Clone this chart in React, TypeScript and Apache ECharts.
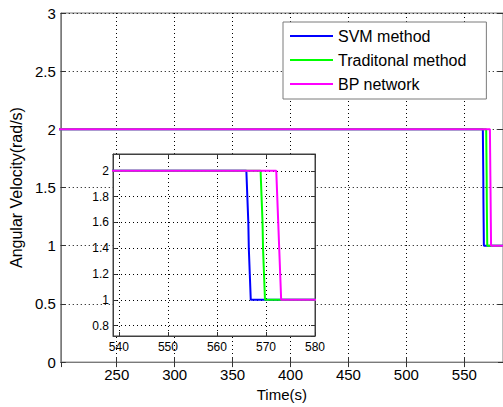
import React, { useEffect, useRef } from "react";
import * as echarts from "echarts";

// Series names and colours
const seriesNames = ["SVM method", "Traditonal method", "BP network"];
const seriesColors = ["#0000ff", "#00ff00", "#ff00ff"];

// SVM method (time s, angular velocity rad/s)
const svmTime = [200, 566.0, 566.2, 566.4, 566.5, 566.7, 566.9, 600];
const svmValue = [2, 2, 1.8, 1.6, 1.4, 1.2, 1, 1];

// Traditional method
const tradTime = [200, 568.9, 569.1, 569.3, 569.4, 569.6, 569.8, 600];
const tradValue = [2, 2, 1.8, 1.6, 1.4, 1.2, 1, 1];

// BP network
const bpTime = [200, 572.1, 572.3, 572.5, 572.7, 572.9, 573.1, 600];
const bpValue = [2, 2, 1.8, 1.6, 1.4, 1.2, 1, 1];

// Axis ranges
const mainX = [201.7, 583.4];
const mainY = [0, 3];
const insetX = [538.8, 580];
const insetY = [0.72, 2.13];

const allTimes = [svmTime, tradTime, bpTime];
const allValues = [svmValue, tradValue, bpValue];

export default function App() {
  const ref = useRef<HTMLDivElement>(null);
  useEffect(() => {
    const chart = echarts.init(ref.current!, null, { renderer: "svg" });
    const font = "Arial, 'Liberation Sans', sans-serif";
    const dotted = { color: "#000000", width: 1, type: [1, 3] as any };
    const frame = "#7a7a7a";
    const insetFrame = "#404040";

    const pairs = (i: number) => allTimes[i].map((t, k) => [t, allValues[i][k]]);

    const mkSeries = (gridIdx: number) =>
      seriesNames.map((name, i) => ({
        type: "line",
        name,
        xAxisIndex: gridIdx === 0 ? 0 : 2,
        yAxisIndex: gridIdx === 0 ? 0 : 2,
        data: pairs(i),
        showSymbol: false,
        symbol: "none",
        lineStyle: { color: seriesColors[i], width: 2 },
        itemStyle: { color: seriesColors[i] },
        z: gridIdx === 0 ? 2 : 5 + i,
        clip: true,
      }));

    const option: any = {
      animation: false,
      textStyle: { fontFamily: font },
      legend: {
        data: seriesNames,
        orient: "vertical",
        left: 283,
        top: 22,
        padding: [6, 20, 7, 7],
        itemGap: 8,
        itemWidth: 43,
        itemHeight: 2,
        itemTextGap: 5,
        icon: "rect",
        backgroundColor: "#ffffff",
        borderColor: frame,
        borderWidth: 1,
        textStyle: { fontSize: 16, color: "#000", fontFamily: font },
        selectedMode: false,
        z: 6,
      },
      grid: [
        {
          left: 57,
          top: 13,
          width: 450,
          height: 353,
          show: true,
          backgroundColor: "transparent",
          borderColor: frame,
          borderWidth: 1,
          z: 0,
        },
        {
          left: 113,
          top: 154,
          width: 202,
          height: 182,
          show: true,
          backgroundColor: "#ffffff",
          borderColor: insetFrame,
          borderWidth: 1,
          z: 3,
        },
      ],
      xAxis: [
        {
          type: "value",
          gridIndex: 0,
          min: mainX[0],
          max: mainX[1],
          splitNumber: 8,
          position: "bottom",
          name: "Time(s)",
          nameLocation: "middle",
          nameGap: 21,
          nameTextStyle: { fontSize: 15, color: "#000", fontFamily: font },
          axisLine: { show: true, lineStyle: { color: frame } },
          axisTick: { show: true, inside: true, length: 5, lineStyle: { color: "#333" } },
          axisLabel: { fontSize: 15, color: "#000", margin: 5, showMinLabel: false, showMaxLabel: false, fontFamily: font },
          splitLine: { show: true, lineStyle: dotted },
          z: 1,
        },
        {
          type: "value",
          gridIndex: 0,
          min: mainX[0],
          max: mainX[1],
          splitNumber: 8,
          position: "top",
          axisLine: { show: true, lineStyle: { color: frame } },
          axisTick: { show: true, inside: true, length: 5, lineStyle: { color: "#333" } },
          axisLabel: { show: false },
          splitLine: { show: false },
          z: 1,
        },
        {
          type: "value",
          gridIndex: 1,
          min: insetX[0],
          max: insetX[1],
          splitNumber: 4,
          position: "bottom",
          axisLine: { show: true, lineStyle: { color: insetFrame } },
          axisTick: { show: true, inside: true, length: 4, lineStyle: { color: "#333" } },
          axisLabel: { fontSize: 12, color: "#000", margin: 5, showMinLabel: false, showMaxLabel: true, fontFamily: font },
          splitLine: { show: true, lineStyle: dotted },
          z: 4,
        },
        {
          type: "value",
          gridIndex: 1,
          min: insetX[0],
          max: insetX[1],
          splitNumber: 4,
          position: "top",
          axisLine: { show: true, lineStyle: { color: insetFrame } },
          axisTick: { show: true, inside: true, length: 4, lineStyle: { color: "#333" } },
          axisLabel: { show: false },
          splitLine: { show: false },
          z: 4,
        },
      ],
      yAxis: [
        {
          type: "value",
          gridIndex: 0,
          min: mainY[0],
          max: mainY[1],
          interval: 0.5,
          position: "left",
          name: "Angular Velocity(rad/s)",
          nameLocation: "middle",
          nameGap: 31,
          nameTextStyle: { fontSize: 16, color: "#000", fontFamily: font },
          axisLine: { show: true, lineStyle: { color: frame } },
          axisTick: { show: true, inside: true, length: 5, lineStyle: { color: "#333" } },
          axisLabel: { fontSize: 15, color: "#000", margin: 5, fontFamily: font },
          splitLine: { show: true, lineStyle: dotted },
          z: 1,
        },
        {
          type: "value",
          gridIndex: 0,
          min: mainY[0],
          max: mainY[1],
          interval: 0.5,
          position: "right",
          axisLine: { show: true, lineStyle: { color: frame } },
          axisTick: { show: true, inside: true, length: 5, lineStyle: { color: "#333" } },
          axisLabel: { show: false },
          splitLine: { show: false },
          z: 1,
        },
        {
          type: "value",
          gridIndex: 1,
          min: insetY[0],
          max: insetY[1],
          splitNumber: 7,
          position: "left",
          axisLine: { show: true, lineStyle: { color: insetFrame } },
          axisTick: { show: true, inside: true, length: 4, lineStyle: { color: "#333" } },
          axisLabel: {
            fontSize: 12,
            color: "#000",
            margin: 4,
            showMinLabel: false,
            showMaxLabel: false,
            fontFamily: font,
            formatter: (v: number) => String(Math.round(v * 10) / 10),
          },
          splitLine: { show: true, lineStyle: dotted },
          z: 4,
        },
        {
          type: "value",
          gridIndex: 1,
          min: insetY[0],
          max: insetY[1],
          splitNumber: 7,
          position: "right",
          axisLine: { show: true, lineStyle: { color: insetFrame } },
          axisTick: { show: true, inside: true, length: 4, lineStyle: { color: "#333" } },
          axisLabel: { show: false },
          splitLine: { show: false },
          z: 4,
        },
      ],
      series: [...mkSeries(0), ...mkSeries(1)],
    };
    chart.setOption(option);
    return () => chart.dispose();
  }, []);
  return (
    <div
      ref={ref}
      style={{ position: "fixed", left: 0, top: 0, width: 503, height: 407, background: "#fff" }}
    />
  );
}
